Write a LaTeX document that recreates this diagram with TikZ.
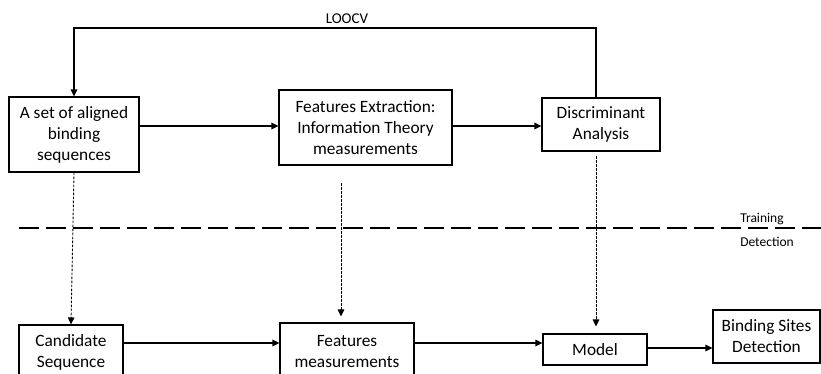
\documentclass[tikz,border=0pt]{standalone}
\usepackage{fontspec}
\setmainfont{Carlito}
\usetikzlibrary{arrows.meta}
\begin{document}
\begin{tikzpicture}[x=1pt,y=-1pt,
  box/.style={draw,line width=1.1pt,rectangle,align=center,inner sep=0pt,
    font=\fontsize{17.3}{21}\selectfont},
  arr/.style={line width=1.1pt,-{Triangle[length=7pt,width=6.5pt]}},
  dotarr/.style={line width=0.9pt,dash pattern=on 2.5pt off 1.5pt,
    -{Triangle[length=7pt,width=6.5pt]}},
  divider/.style={line width=2.6pt,dash pattern=on 20pt off 7pt},
  lbl/.style={font=\fontsize{13.5}{15}\selectfont,inner sep=0pt}]
\clip (0,0) rectangle (821,373);

% training stage
\node[box,minimum width=130pt,minimum height=75pt] (seqs) at (74,134.5)
  {A set of aligned\\binding\\sequences};
\node[box,minimum width=173pt,minimum height=75pt] (fext) at (365.5,127.5)
  {Features Extraction:\\Information Theory\\measurements};
\node[box,minimum width=118pt,minimum height=53pt] (disc) at (601,124.5)
  {Discriminant\\Analysis};

% detection stage
\node[box,minimum width=104pt,minimum height=55pt] (cand) at (71,352.5)
  {Candidate\\Sequence};
\node[box,minimum width=134pt,minimum height=58pt] (feat) at (347,352)
  {Features\\measurements};
\node[box,minimum width=104pt,minimum height=31pt] (model) at (595,349.5)
  {Model};
\node[box,minimum width=107pt,minimum height=53pt] (bsd) at (766.5,336.5)
  {Binding Sites\\Detection};

% LOOCV feedback loop
\coordinate (loopR) at (596,28);
\coordinate (loopL) at (74,28);
\draw[arr] (loopR |- disc.north) -- (loopR) -- (loopL) -- (seqs.north);
\node[lbl,font=\fontsize{15}{17}\selectfont] (loocv) at (347,19) {LOOCV};

% training flow
\draw[arr] (seqs.east |- 0,126) -- (fext.west |- 0,126);
\draw[arr] (fext.east |- 0,126) -- (disc.west |- 0,126);

% separator between stages
\coordinate (divL) at (19,228);
\coordinate (divR) at (821,228);
\draw[divider] (divL) -- (divR);
\node[lbl] (train) at (762,219) {Training};
\node[lbl] (detect) at (767,242) {Detection};

% transfer from training to detection
\draw[dotarr] (seqs.south) -- (cand.north);
\coordinate (fdrop) at (341,183);
\draw[dotarr,shorten >=6pt] (fdrop) -- (fdrop |- feat.north);
\coordinate (ddrop) at (596,156);
\draw[dotarr,shorten >=7pt] (ddrop) -- (ddrop |- model.north);

% detection flow
\draw[arr] (cand.east |- 0,343) -- (feat.west |- 0,343);
\draw[arr] (feat.east |- 0,343) -- (model.west |- 0,343);
\draw[arr] (model.east |- 0,348) -- (bsd.west |- 0,348);
\end{tikzpicture}
\end{document}
